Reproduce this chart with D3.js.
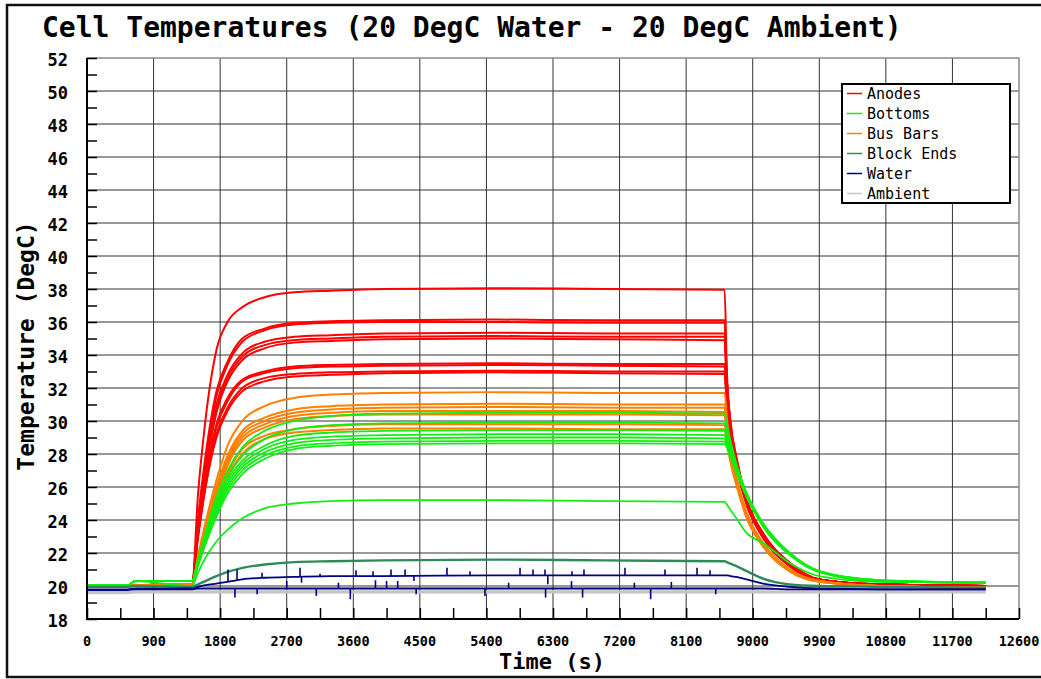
<!DOCTYPE html>
<html>
<head>
<meta charset="utf-8">
<script src="https://cdn.jsdelivr.net/npm/d3@7"></script>
<style>
  html, body { margin: 0; padding: 0; background: #fff; }
  svg { display: block; font-family: "DejaVu Sans Mono", "Liberation Mono", monospace; }
</style>
</head>
<body>
<svg id="chart" width="1041" height="679"></svg>
<script>
// Sample times (s) shared by every temperature trace
const times = [0, 550, 650, 1420, 1500, 1600, 1750, 1900, 2100, 2400, 2800, 3300, 4000, 5500, 7000,
               8620, 8650, 8700, 8780, 8920, 9140, 9500, 9900, 10700, 12150];

// Anode thermocouples (DegC)
const anodes = [
  [19.95,19.95,20.05,20.1, 25.5,30.0,34.3,36.0,36.9,37.5,37.8,37.9,38.0,38.05,38.0,37.95, 33.0,30.0,27.8,25.2,23.2,21.4,20.4,20.1,20.0],
  [19.95,19.95,20.05,20.1, 24.0,27.8,31.8,33.6,35.0,35.6,35.95,36.05,36.1,36.15,36.1,36.1, 32.6,29.8,27.7,25.2,23.2,21.4,20.4,20.1,20.0],
  [19.95,19.95,20.05,20.1, 23.8,27.5,31.5,33.4,34.8,35.5,35.85,35.95,36.0,36.0,35.95,35.95, 32.5,29.7,27.6,25.1,23.1,21.4,20.4,20.1,20.0],
  [19.95,19.95,20.05,20.1, 23.6,27.2,31.0,32.8,34.1,34.8,35.1,35.2,35.3,35.35,35.3,35.3, 32.2,29.6,27.6,25.1,23.1,21.3,20.4,20.1,20.0],
  [19.95,19.95,20.05,20.1, 23.5,27.0,30.8,32.6,33.9,34.6,34.9,35.0,35.1,35.15,35.1,35.1, 32.1,29.5,27.5,25.1,23.1,21.3,20.4,20.1,20.0],
  [19.95,19.95,20.05,20.1, 23.4,26.8,30.5,32.4,33.7,34.4,34.75,34.85,34.95,35.0,34.95,34.9, 32.0,29.4,27.5,25.0,23.0,21.3,20.4,20.1,20.0],
  [19.95,19.95,20.05,20.1, 23.2,26.4,29.8,31.4,32.5,33.0,33.3,33.4,33.45,33.5,33.45,33.45, 31.3,29.2,27.4,25.0,23.0,21.3,20.35,20.1,20.0],
  [19.95,19.95,20.05,20.1, 23.1,26.2,29.6,31.2,32.4,32.9,33.2,33.3,33.35,33.4,33.35,33.3, 31.2,29.1,27.3,25.0,23.0,21.3,20.35,20.1,20.0],
  [19.95,19.95,20.05,20.1, 23.0,26.0,29.2,30.8,32.0,32.6,32.85,32.95,33.0,33.05,33.0,33.0, 31.0,29.0,27.3,24.9,23.0,21.2,20.35,20.1,20.0],
  [19.95,19.95,20.05,20.1, 22.9,25.9,29.0,30.6,31.8,32.4,32.7,32.8,32.9,32.95,32.9,32.85, 30.9,29.0,27.2,24.9,22.9,21.2,20.35,20.1,20.0]
];

// Cell bottom thermocouples (DegC)
const bottoms = [
  [20.05,20.05,20.3,20.3, 21.6,23.2,25.4,27.0,28.4,29.4,30.0,30.3,30.45,30.5,30.5,30.45, 29.8,28.8,27.4,25.6,23.8,22.0,20.9,20.35,20.2],
  [20.05,20.05,20.3,20.3, 21.5,23.0,25.1,26.6,27.9,28.9,29.5,29.75,29.85,29.9,29.9,29.85, 29.4,28.6,27.3,25.6,23.8,22.0,20.9,20.35,20.2],
  [20.05,20.05,20.3,20.3, 21.4,22.9,24.9,26.4,27.6,28.5,29.1,29.3,29.4,29.45,29.45,29.4, 29.0,28.3,27.2,25.5,23.7,22.0,20.9,20.35,20.2],
  [20.05,20.05,20.3,20.3, 21.4,22.8,24.7,26.2,27.4,28.3,28.85,29.05,29.15,29.2,29.2,29.15, 28.8,28.2,27.1,25.5,23.7,21.9,20.85,20.3,20.2],
  [20.05,20.05,20.3,20.3, 21.3,22.7,24.5,26.0,27.2,28.1,28.65,28.85,28.95,29.0,29.0,28.95, 28.6,28.0,27.0,25.4,23.7,21.9,20.85,20.3,20.2],
  [20.05,20.05,20.3,20.3, 21.3,22.6,24.3,25.8,27.0,27.9,28.45,28.65,28.75,28.8,28.8,28.75, 28.5,27.9,26.9,25.4,23.6,21.9,20.85,20.3,20.2],
  [20.05,20.05,20.3,20.3, 21.2,22.5,24.2,25.6,26.8,27.7,28.3,28.5,28.6,28.65,28.65,28.6, 28.4,27.8,26.9,25.4,23.6,21.9,20.85,20.3,20.2],
  [20.05,20.05,20.3,20.0, 20.8,21.7,22.7,23.4,24.1,24.7,25.0,25.15,25.2,25.2,25.15,25.1, 24.95,24.6,24.1,23.2,22.6,21.4,20.6,20.25,20.2]
];

// Bus bar thermocouples (DegC)
const busBars = [
  [19.95,19.95,20.05,20.1, 21.8,23.8,26.4,28.5,30.0,30.9,31.4,31.6,31.7,31.75,31.7,31.7, 30.2,28.4,26.6,24.4,22.6,21.0,20.3,20.0,19.9],
  [19.95,19.95,20.05,20.1, 21.7,23.6,26.0,27.9,29.4,30.2,30.7,30.9,31.0,31.05,31.0,31.0, 29.8,28.2,26.5,24.4,22.6,21.0,20.3,20.0,19.9],
  [19.95,19.95,20.05,20.1, 21.6,23.4,25.8,27.7,29.2,30.0,30.5,30.7,30.8,30.85,30.8,30.8, 29.6,28.1,26.4,24.3,22.5,21.0,20.3,20.0,19.9],
  [19.95,19.95,20.05,20.1, 21.6,23.3,25.6,27.5,29.0,29.8,30.3,30.5,30.6,30.6,30.6,30.55, 29.5,28.0,26.4,24.3,22.5,20.9,20.3,20.0,19.9],
  [19.95,19.95,20.05,20.1, 21.5,23.2,25.4,27.3,28.8,29.6,30.1,30.3,30.4,30.4,30.4,30.35, 29.3,27.9,26.3,24.2,22.5,20.9,20.3,20.0,19.9],
  [19.95,19.95,20.05,20.1, 21.4,23.0,25.0,26.8,28.3,29.1,29.5,29.7,29.8,29.8,29.8,29.75, 28.9,27.6,26.2,24.2,22.4,20.9,20.25,20.0,19.9],
  [19.95,19.95,20.05,20.1, 21.3,22.9,24.8,26.6,28.0,28.9,29.3,29.45,29.55,29.55,29.5,29.5, 28.7,27.5,26.1,24.1,22.4,20.9,20.25,20.0,19.9]
];

// Block end thermocouple (DegC)
const blockEnds = [
  [19.95,19.95,20.0,19.95, 20.1,20.3,20.6,20.85,21.1,21.3,21.45,21.5,21.55,21.6,21.55,21.5, 21.45,21.35,21.2,20.9,20.45,20.1,20.0,19.95,19.9]
];

// Cooling water inlet / outlet (DegC)
const water = [
  [19.8,19.8,19.85,19.85, 19.95,20.05,20.15,20.25,20.4,20.5,20.55,20.6,20.6,20.65,20.65,20.65, 20.65,20.6,20.55,20.4,20.15,19.95,19.85,19.8,19.8],
  [19.75,19.75,19.8,19.8, 19.85,19.85,19.85,19.85,19.85,19.85,19.85,19.85,19.85,19.85,19.85,19.85, 19.85,19.85,19.85,19.85,19.85,19.8,19.8,19.8,19.8]
];

// Ambient air (DegC)
const ambient = [
  [19.6,19.6,19.65,19.65, 19.65,19.65,19.65,19.65,19.65,19.65,19.65,19.65,19.65,19.65,19.65,19.65, 19.65,19.65,19.65,19.65,19.65,19.65,19.65,19.65,19.65]
];

// Logger glitches on the water channels: [time, level, excursion]
const waterInSpikes = [
  [1906,20.25,21.0],[2028,20.35,21.0],[2366,20.5,20.8],[2880,20.55,21.1],[2900,20.55,20.2],
  [3150,20.6,20.75],[3637,20.6,20.95],[3867,20.6,20.9],[4110,20.6,21.0],[4300,20.6,21.0],
  [4420,20.6,20.3],[4867,20.6,21.1],[5178,20.65,20.9],[5854,20.65,21.1],[6030,20.65,21.0],
  [6192,20.65,21.0],[6230,20.65,20.1],[6557,20.65,20.9],[6719,20.65,21.0],[7273,20.65,21.1],
  [7814,20.65,21.0],[8247,20.65,21.1],[8423,20.65,20.95]
];
const waterOutSpikes = [
  [2000,19.85,19.3],[2300,19.85,19.5],[3100,19.85,19.4],[3560,19.85,19.2],[4450,19.85,19.5],
  [5380,19.85,19.4],[6200,19.85,19.3],[6700,19.85,19.3],[7620,19.85,19.2],[8500,19.85,19.5],
  [2700,19.85,20.3],[3400,19.85,20.2],[3900,19.85,20.35],[4050,19.85,20.3],[4200,19.85,20.3],
  [5700,19.85,20.2],[6550,19.85,20.3],[7400,19.85,20.2],[7900,19.85,20.25]
];

// Axis ticks
const xMajorTicks = d3.range(0, 12601, 900);
const xMinorTicks = d3.range(0, 12601, 450);
const yMajorTicks = d3.range(18, 53, 2);
const yMinorTicks = d3.range(18, 53, 1);

const legendNames = ["Anodes", "Bottoms", "Bus Bars", "Block Ends", "Water", "Ambient"];
const legendColors = ["#ff0000", "#11ee11", "#ff8000", "#2e8b57", "#000080", "#c4c4c4"];

const svg = d3.select("#chart");
const L = 87, R = 1019, T = 58, B = 619;

const x = d3.scaleLinear().domain([0, 12600]).range([L, R]);
const y = d3.scaleLinear().domain([18, 52]).range([B, T]);

// outer frame
svg.append("rect").attr("x", 7).attr("y", 5).attr("width", 1060).attr("height", 672)
  .attr("fill", "none").attr("stroke", "#111").attr("stroke-width", 2.5);

// title
svg.append("text").attr("x", 42).attr("y", 37)
  .attr("font-size", 28).attr("font-weight", "bold").attr("fill", "#000")
  .text("Cell Temperatures (20 DegC Water - 20 DegC Ambient)");

// grid
const grid = svg.append("g");
grid.selectAll("line.vx").data(xMajorTicks.filter(d => d > 0 && d < 12600)).join("line")
  .attr("x1", d => x(d)).attr("x2", d => x(d)).attr("y1", T).attr("y2", B)
  .attr("stroke", "#333").attr("stroke-width", 1);
grid.selectAll("line.hy").data(yMajorTicks.filter(d => d > 18 && d < 52)).join("line")
  .attr("x1", L).attr("x2", R).attr("y1", d => y(d)).attr("y2", d => y(d))
  .attr("stroke", "#333").attr("stroke-width", 1);

// plot frame (top / right)
svg.append("path").attr("d", `M${L},${T}H${R}V${B}`)
  .attr("fill", "none").attr("stroke", "#8a8a8a").attr("stroke-width", 1.5);

// inner ticks
svg.append("g").attr("transform", `translate(0,${B})`)
  .call(d3.axisBottom(x).tickValues(xMinorTicks).tickSize(-11).tickFormat(""))
  .call(g => g.select(".domain").remove())
  .call(g => g.selectAll("line").attr("stroke", "#000").attr("stroke-width", 1.5));
svg.append("g").attr("transform", `translate(${L},0)`)
  .call(d3.axisRight(y).tickValues(yMinorTicks).tickSize(10).tickFormat(""))
  .call(g => g.select(".domain").remove())
  .call(g => g.selectAll("line").attr("stroke", "#000").attr("stroke-width", 1.5));

// data
const line = d3.line().x((d, i) => x(times[i])).y(d => y(d)).curve(d3.curveMonotoneX);
const groups = [
  { data: anodes, color: legendColors[0], w: 2.0 },
  { data: bottoms, color: legendColors[1], w: 1.8 },
  { data: busBars, color: legendColors[2], w: 2.0 },
  { data: blockEnds, color: legendColors[3], w: 2.4 },
  { data: water, color: legendColors[4], w: 1.8 },
  { data: ambient, color: legendColors[5], w: 3.2 }
];
const plot = svg.append("g");
plot.append("defs").append("clipPath").attr("id", "clip")
  .append("rect").attr("x", L).attr("y", T).attr("width", R - L).attr("height", B - T);
const dataG = plot.append("g").attr("clip-path", "url(#clip)");

// ambient drawn first so the water traces sit on top of it
[5, 0, 2, 1, 3, 4].forEach(k => {
  const g = groups[k];
  dataG.append("g").selectAll("path").data(g.data).join("path")
    .attr("d", line).attr("fill", "none").attr("stroke", g.color)
    .attr("stroke-width", g.w).attr("stroke-linejoin", "round");
});

const spikes = dataG.append("g").attr("stroke", legendColors[4]).attr("stroke-width", 1.6);
spikes.selectAll("line.a").data(waterInSpikes.concat(waterOutSpikes)).join("line")
  .attr("x1", d => x(d[0])).attr("x2", d => x(d[0]))
  .attr("y1", d => y(d[1])).attr("y2", d => y(d[2]));

// axes lines (left / bottom)
svg.append("path").attr("d", `M${L},${T}V${B}H${R}`)
  .attr("fill", "none").attr("stroke", "#000").attr("stroke-width", 2);

// tick labels
svg.append("g").selectAll("text").data(yMajorTicks).join("text")
  .attr("x", 68).attr("y", d => y(d) + 2).attr("text-anchor", "end")
  .attr("dominant-baseline", "central").attr("font-size", 17).attr("font-weight", "bold")
  .text(d => d);
svg.append("g").selectAll("text").data(xMajorTicks).join("text")
  .attr("x", d => x(d)).attr("y", 640.5).attr("text-anchor", "middle")
  .attr("dominant-baseline", "central").attr("font-size", 13.5).attr("font-weight", "bold")
  .text(d => d);

// axis titles
svg.append("text").attr("x", 552).attr("y", 669).attr("text-anchor", "middle")
  .attr("font-size", 22).attr("font-weight", "bold").text("Time (s)");
svg.append("text").attr("transform", "translate(34,346) rotate(-90)")
  .attr("text-anchor", "middle").attr("font-size", 23).attr("font-weight", "bold")
  .text("Temperature (DegC)");

// legend
const lg = svg.append("g");
lg.append("rect").attr("x", 842).attr("y", 84).attr("width", 168).attr("height", 119)
  .attr("fill", "#fff").attr("stroke", "#000").attr("stroke-width", 2);
legendNames.forEach((name, i) => {
  const cy = 93.5 + i * 20;
  lg.append("line").attr("x1", 847).attr("x2", 862).attr("y1", cy).attr("y2", cy)
    .attr("stroke", legendColors[i]).attr("stroke-width", 1.5);
  lg.append("text").attr("x", 867).attr("y", cy).attr("dominant-baseline", "central")
    .attr("font-size", 15).text(name);
});
</script>
</body>
</html>
